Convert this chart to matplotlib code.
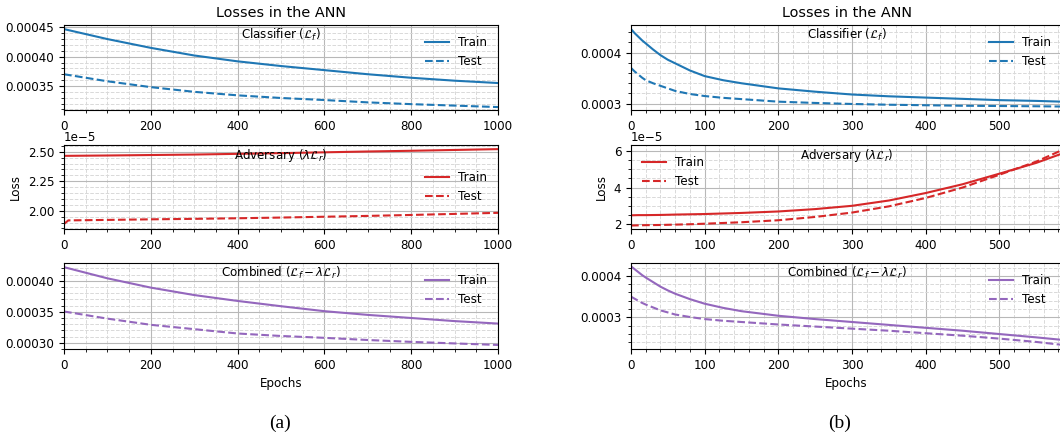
import matplotlib
matplotlib.use('Agg')
import matplotlib.pyplot as plt
from matplotlib.ticker import AutoMinorLocator

plt.rcParams['font.size'] = 8.6

# Left panel (a): 1000 epochs
ep_a = [0, 100, 200, 300, 400, 500, 600, 700, 800, 900, 1000]
clf_train_a = [4.47, 4.30, 4.15, 4.02, 3.92, 3.84, 3.77, 3.70, 3.64, 3.59, 3.55]
clf_test_a = [3.70, 3.58, 3.48, 3.40, 3.34, 3.295, 3.26, 3.22, 3.19, 3.165, 3.14]
adv_train_a = [2.465, 2.468, 2.472, 2.476, 2.482, 2.488, 2.495, 2.502, 2.508, 2.515, 2.522]
ep_a_adv_test = [0, 10, 100, 200, 300, 400, 500, 600, 700, 800, 900, 1000]
adv_test_a = [1.888, 1.918, 1.922, 1.927, 1.931, 1.936, 1.942, 1.949, 1.956, 1.964, 1.973, 1.982]
comb_train_a = [4.22, 4.04, 3.89, 3.77, 3.675, 3.59, 3.51, 3.45, 3.40, 3.35, 3.31]
comb_test_a = [3.505, 3.39, 3.29, 3.22, 3.15, 3.11, 3.08, 3.045, 3.015, 2.99, 2.965]

# Right panel (b): ~585 epochs
ep_b = [0, 5, 10, 15, 20, 30, 40, 50, 60, 80, 100, 125, 150, 200, 250, 300, 350,
        400, 450, 500, 550, 585]
clf_train_b = [4.46, 4.38, 4.31, 4.24, 4.18, 4.06, 3.95, 3.86, 3.79, 3.65, 3.54, 3.46,
               3.40, 3.30, 3.235, 3.18, 3.145, 3.12, 3.095, 3.07, 3.055, 3.04]
clf_test_b = [3.70, 3.63, 3.57, 3.51, 3.46, 3.40, 3.35, 3.30, 3.25, 3.19, 3.15, 3.115,
              3.09, 3.04, 3.015, 2.995, 2.98, 2.97, 2.96, 2.955, 2.95, 2.945]
adv_train_b = [2.48, 2.485, 2.49, 2.49, 2.49, 2.495, 2.50, 2.51, 2.52, 2.535, 2.55, 2.58,
               2.61, 2.69, 2.82, 3.00, 3.29, 3.70, 4.18, 4.76, 5.35, 5.86]
adv_test_b = [1.92, 1.925, 1.93, 1.935, 1.94, 1.945, 1.95, 1.96, 1.97, 1.99, 2.02, 2.06,
              2.10, 2.21, 2.39, 2.63, 2.97, 3.43, 4.00, 4.70, 5.42, 6.05]
comb_train_b = [4.23, 4.16, 4.09, 4.02, 3.96, 3.85, 3.74, 3.65, 3.57, 3.44, 3.33, 3.23,
                3.15, 3.04, 2.96, 2.89, 2.82, 2.75, 2.68, 2.60, 2.52, 2.46]
comb_test_b = [3.50, 3.45, 3.40, 3.35, 3.31, 3.24, 3.17, 3.12, 3.07, 3.01, 2.96, 2.92,
               2.89, 2.83, 2.78, 2.73, 2.68, 2.62, 2.56, 2.49, 2.41, 2.34]

W, H = 1060, 440
fig = plt.figure(figsize=(W / 100, H / 100), dpi=100)

def px_axes(x0, x1, y0, y1):
    return fig.add_axes([x0 / W, 1 - y1 / H, (x1 - x0) / W, (y1 - y0) / H])

def style(ax):
    ax.xaxis.set_minor_locator(AutoMinorLocator())
    ax.yaxis.set_minor_locator(AutoMinorLocator())
    ax.grid(which='major', color='0.72', lw=0.8)
    ax.grid(which='minor', color='0.85', ls='--', lw=0.7)
    ax.set_axisbelow(True)

def panel(x0, x1, xlim, data, ylims, legend_locs):
    rows = [(25, 110), (145, 229), (263, 349)]
    names = [r'Classifier ($\mathcal{L}_f$)', r'Adversary ($\lambda\mathcal{L}_r$)',
             r'Combined ($\mathcal{L}_f - \lambda\mathcal{L}_r$)']
    colors = ['#1f77b4', '#d62728', '#9467bd']
    axes = []
    for i, (y0, y1) in enumerate(rows):
        ax = px_axes(x0, x1, y0, y1)
        style(ax)
        (ex_tr, tr), (ex_te, te) = data[i]
        ax.plot(ex_tr, tr, color=colors[i], lw=1.5, label='Train')
        ax.plot(ex_te, te, color=colors[i], lw=1.5, ls='--', label='Test')
        ax.set_xlim(*xlim)
        ax.set_ylim(*ylims[i])
        ax.text(0.5, 0.88, names[i], transform=ax.transAxes, ha='center', va='center')
        ax.legend(loc=legend_locs[i], frameon=False)
        axes.append(ax)
    axes[0].set_title('Losses in the ANN', fontsize=10.4)
    axes[1].set_ylabel('Loss')
    axes[2].set_xlabel('Epochs')
    return axes

s4, s5 = 1e-4, 1e-5
panel(64, 498, (0, 1000),
      [((ep_a, [v * s4 for v in clf_train_a]), (ep_a, [v * s4 for v in clf_test_a])),
       ((ep_a, [v * s5 for v in adv_train_a]), (ep_a_adv_test, [v * s5 for v in adv_test_a])),
       ((ep_a, [v * s4 for v in comb_train_a]), (ep_a, [v * s4 for v in comb_test_a]))],
      [(3.09e-4, 4.54e-4), (1.845e-5, 2.557e-5), (2.90e-4, 4.287e-4)],
      ['upper right', 'center right', 'upper right'])

panel(631, 1062, (0, 585),
      [((ep_b, [v * s4 for v in clf_train_b]), (ep_b, [v * s4 for v in clf_test_b])),
       ((ep_b, [v * s5 for v in adv_train_b]), (ep_b, [v * s5 for v in adv_test_b])),
       ((ep_b, [v * s4 for v in comb_train_b]), (ep_b, [v * s4 for v in comb_test_b]))],
      [(2.877e-4, 4.54e-4), (1.73e-5, 6.33e-5), (2.24e-4, 4.31e-4)],
      ['upper right', 'upper left', 'upper right'])

fig.text(280 / W, 1 - 423 / H, '(a)', family='Liberation Serif', fontsize=14, ha='center', va='center')
fig.text(840 / W, 1 - 423 / H, '(b)', family='Liberation Serif', fontsize=14, ha='center', va='center')

fig.savefig('out.png', dpi=100)
